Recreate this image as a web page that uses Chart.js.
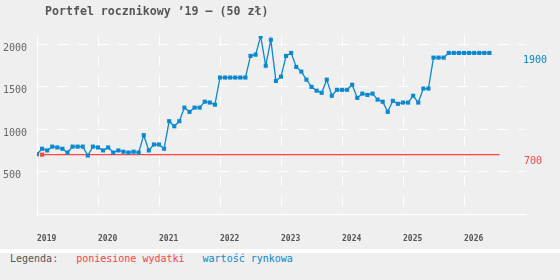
<!DOCTYPE html>
<html>
<head>
<meta charset="utf-8">
<script src="https://cdn.jsdelivr.net/npm/chart.js@4/dist/chart.umd.min.js"></script>
<style>
  html, body { margin: 0; padding: 0; background: #efefef; }
  #wrap { width: 560px; height: 249px; position: relative; }
  #legend {
    width: 550px; height: 27px; line-height: 27px; padding-left: 10px;
    border-top: 4px solid #fff; background: #efefef;
    font: 10px "DejaVu Sans Mono", monospace; color: #555; white-space: nowrap;
  }
  #legend span { margin-left: 18px; }
</style>
</head>
<body>
<div id="wrap"><canvas id="chart"></canvas></div>
<div id="legend">Legenda:<span style="color:#f44">poniesione wydatki</span><span style="color:#0a88d2">wartość rynkowa</span></div>
<script>
// ── Dane ──────────────────────────────────────────────────────────────────────
const startYear = 2019;            // pierwszy miesiąc serii: 2019-01
const yearTicks = [2019, 2020, 2021, 2022, 2023, 2024, 2025, 2026];
const valueTicks = [500, 1000, 1500, 2000];

// wartość rynkowa, miesięcznie od 2019-01 do 2026-06
const marketValues = [
  705, 770, 750, 795, 785, 770, 725, 795, 795, 795, 690, 795,        // 2019
  785, 750, 785, 725, 750, 735, 725, 735, 725, 930, 750, 820,        // 2020
  820, 770, 1095, 1035, 1095, 1255, 1205, 1255, 1255, 1325, 1315, 1290, // 2021
  1610, 1610, 1610, 1610, 1610, 1610, 1865, 1880, 2095, 1750, 2055, 1570, // 2022
  1620, 1865, 1900, 1735, 1680, 1585, 1500, 1455, 1430, 1585, 1395, 1465, // 2023
  1465, 1465, 1525, 1370, 1420, 1405, 1420, 1350, 1325, 1205, 1335, 1300, // 2024
  1315, 1315, 1395, 1315, 1480, 1480, 1845, 1845, 1845, 1900, 1900, 1900, // 2025
  1900, 1900, 1900, 1900, 1900, 1900                                   // 2026
];

// poniesione wydatki (indeksy miesięcy od 2019-01)
const costMonths = [1, 91];
const costValues = [700, 700];

const BLUE = '#0a88d2';
const RED  = '#f44';
const MONO = '"DejaVu Sans Mono", monospace';

const monthX = i => startYear + i / 12;

// ── Tytuł + etykiety końcowych wartości ───────────────────────────────────────
const extrasPlugin = {
  id: 'extras',
  afterDraw(chart) {
    const { ctx } = chart;
    const y = chart.scales.y;
    ctx.save();
    ctx.font = 'bold 11.6px ' + MONO;
    ctx.fillStyle = '#555';
    ctx.textAlign = 'left';
    ctx.textBaseline = 'middle';
    ctx.fillText('Portfel rocznikowy ’19 – (50 zł)', 45, 12);

    ctx.font = '10px ' + MONO;
    const lastM = marketValues[marketValues.length - 1];
    const lastC = costValues[costValues.length - 1];
    ctx.fillStyle = BLUE;
    ctx.fillText(String(lastM), 523, y.getPixelForValue(lastM) + 7);
    ctx.fillStyle = RED;
    ctx.fillText(String(lastC), 524, y.getPixelForValue(lastC) + 7);
    ctx.restore();
  }
};

new Chart(document.getElementById('chart'), {
  type: 'line',
  data: {
    datasets: [
      {
        label: 'wartość rynkowa',
        data: marketValues.map((v, i) => ({ x: monthX(i), y: v })),
        borderColor: BLUE, backgroundColor: BLUE, borderWidth: 1.3,
        pointStyle: 'rect', pointRadius: 2.9, pointBorderWidth: 0,
        tension: 0,
      },
      {
        label: 'poniesione wydatki',
        data: costMonths.map((m, i) => ({ x: monthX(m), y: costValues[i] })),
        borderColor: RED, backgroundColor: RED, borderWidth: 1.3,
        pointStyle: 'rect', pointRadius: [2.9, 0], pointBorderWidth: 0,
        tension: 0,
      },
    ],
  },
  options: {
    responsive: true,
    maintainAspectRatio: false,
    animation: false,
    layout: { padding: { left: 3, right: 35, top: 36, bottom: 0 } },
    plugins: { legend: { display: false }, tooltip: { enabled: false }, title: { display: false } },
    scales: {
      x: {
        type: 'linear', min: 2019, max: 2027,
        afterBuildTicks: s => { s.ticks = yearTicks.map(v => ({ value: v })); },
        afterFit: s => { s.height = 35; },
        ticks: {
          align: 'start', padding: 17, color: '#555',
          font: { family: MONO, size: 8, weight: 'bold' },
          callback: v => String(v),
        },
        grid: { color: '#fff', lineWidth: 1, tickLength: 3, tickColor: '#fff' },
        border: { color: '#fff', width: 1, dash: [10, 10] },
      },
      y: {
        min: 0, max: 2100,
        afterBuildTicks: s => { s.ticks = valueTicks.map(v => ({ value: v })); },
        afterFit: s => { s.width = 34; },
        ticks: {
          crossAlign: 'far', labelOffset: 4, color: '#666',
          font: { family: MONO, size: 10 },
          callback: v => String(v),
        },
        grid: { color: '#fff', lineWidth: 1, drawTicks: false },
        border: { color: '#fff', width: 1, dash: [10, 10] },
      },
    },
  },
  plugins: [extrasPlugin],
});
</script>
</body>
</html>
